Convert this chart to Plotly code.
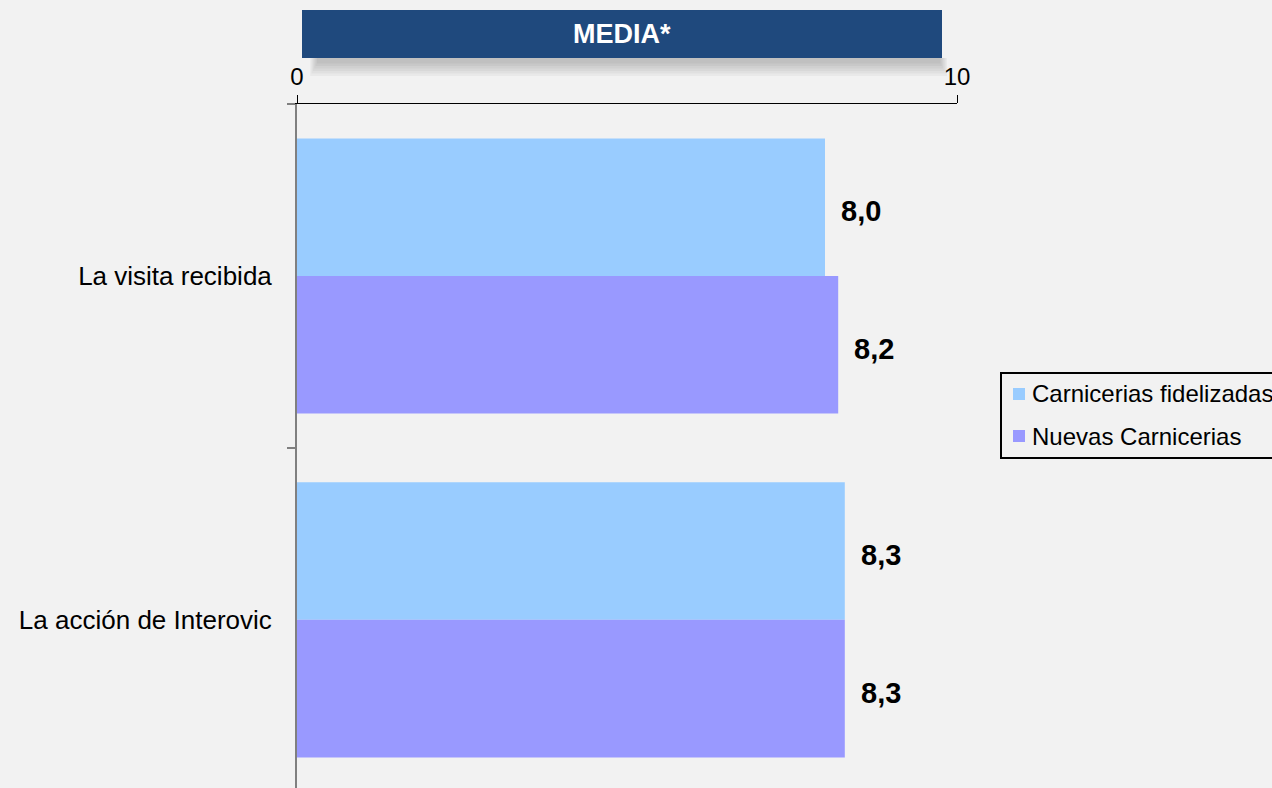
import plotly.graph_objects as go

# Categories and mean scores (0-10 scale)
categories = ["La visita recibida", "La acción de Interovic"]
series_names = ["Carnicerias fidelizadas", "Nuevas Carnicerias"]
fidelizadas = [8.0, 8.3]
nuevas = [8.2, 8.3]
x_ticks = [0, 10]
banner_title = "MEDIA*"

colors = ["#99CCFF", "#9999FF"]
bg = "#F2F2F2"
FONT = "Liberation Sans, Arial, sans-serif"

# Plot-area geometry in pixels, used to place paper-anchored decorations
PL, PR, PT, PB = 297, 957, 104, 788


def px_x(p):
    return (p - PL) / (PR - PL)


def px_y(p):
    return (PB - p) / (PB - PT)


def fmt(v):
    return f"{v:.1f}".replace(".", ",")


fig = go.Figure()
for i, (name, vals) in enumerate(zip(series_names, [fidelizadas, nuevas])):
    fig.add_trace(go.Bar(
        y=categories, x=vals, name=name, orientation="h",
        marker=dict(color=colors[i], line=dict(width=0)),
        hoverinfo="x+y", showlegend=False,
    ))

# Value labels to the right of each bar
for ti, vals in enumerate([fidelizadas, nuevas]):
    for ci, v in enumerate(vals):
        offset = -0.2 if ti == 0 else 0.2
        fig.add_annotation(
            x=v, y=ci + offset, xref="x", yref="y",
            text=f"<b>{fmt(v)}</b>", showarrow=False,
            xanchor="left", yanchor="middle", xshift=14, yshift=-4,
            font=dict(family=FONT, size=29, color="#000000"),
        )

# Banner shadow (soft grey band under the title box)
for k in range(6):
    fig.add_shape(
        type="rect", xref="paper", yref="paper", layer="below",
        x0=0.02 + k * 0.002, x1=0.985 - k * 0.002,
        y0=px_y(76 - k * 2.5), y1=px_y(58),
        fillcolor="rgba(0,0,0,0.035)", line=dict(width=0),
    )

# Title banner
fig.add_shape(
    type="rect", xref="paper", yref="paper",
    x0=px_x(302), x1=px_x(942), y0=px_y(58), y1=px_y(10),
    fillcolor="#1F497D", line=dict(width=0),
)
fig.add_annotation(
    x=px_x((302 + 942) / 2), y=px_y(34),
    xref="paper", yref="paper", showarrow=False,
    text=f"<b>{banner_title}</b>",
    font=dict(family=FONT, size=27, color="#FFFFFF"),
    xanchor="center", yanchor="middle",
)

# Legend box with colour swatches
fig.add_shape(
    type="rect", xref="paper", yref="paper",
    x0=px_x(1001), x1=px_x(1290), y0=px_y(458), y1=px_y(373),
    fillcolor=bg, line=dict(color="#000000", width=2),
)
for i, name in enumerate(series_names):
    cy = 394 + i * 42
    fig.add_shape(
        type="rect", xref="paper", yref="paper",
        x0=px_x(1013), x1=px_x(1025), y0=px_y(cy + 6), y1=px_y(cy - 6),
        fillcolor=colors[i], line=dict(width=0),
    )
    fig.add_annotation(
        x=px_x(1030), y=px_y(cy), xref="paper", yref="paper",
        text=name, showarrow=False, xanchor="left", yanchor="middle",
        font=dict(family=FONT, size=24, color="#000000"),
    )

fig.update_layout(
    width=1272, height=788,
    paper_bgcolor=bg, plot_bgcolor=bg,
    margin=dict(l=PL, r=1272 - PR, t=PT, b=0, autoexpand=False),
    barmode="group", bargap=0.2, bargroupgap=0,
    font=dict(family=FONT, size=24, color="#000000"),
    showlegend=False,
    xaxis=dict(
        side="top", range=[0, 10], tickvals=x_ticks,
        ticktext=[str(t) for t in x_ticks],
        showgrid=False, zeroline=False,
        showline=True, linecolor="#000000", linewidth=1,
        ticks="outside", ticklen=8, tickcolor="#000000", tickwidth=1,
        tickfont=dict(family=FONT, size=24, color="#000000"),
        fixedrange=True,
    ),
    yaxis=dict(
        range=[1.489, -0.5], type="category",
        showgrid=False, zeroline=False,
        showline=True, linecolor="#808080", linewidth=2,
        ticks="outside", tickson="boundaries", ticklen=8,
        tickcolor="#808080", tickwidth=2,
        tickfont=dict(family=FONT, size=26, color="#000000"),
        ticklabelstandoff=18,
        fixedrange=True,
    ),
)

fig.write_html("out.html")
